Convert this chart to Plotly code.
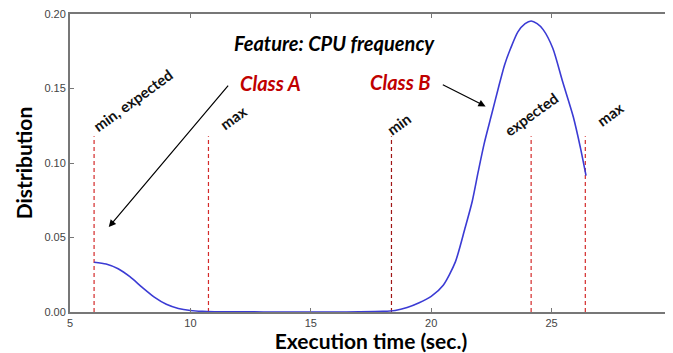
import plotly.graph_objects as go

# ---- data ----
curve_x = [6.0, 6.5, 7.0, 7.5, 8.0, 8.5, 9.0, 9.5, 10.0, 10.5, 11.0, 12.0, 14.0, 16.0, 17.0,
           18.0, 18.5, 19.0, 19.5, 20.0, 20.5, 21.0, 21.4, 21.7, 21.95, 22.2, 22.5, 22.8,
           23.05, 23.3, 23.6, 23.9, 24.15, 24.4, 24.65, 25.05, 25.45, 25.9, 26.2, 26.43]
curve_y = [0.0334, 0.0322, 0.0290, 0.0235, 0.0165, 0.0100, 0.0052, 0.0024, 0.0010, 0.0004,
           0.0002, 0.0001, 0.0, 0.0, 0.0001, 0.0004, 0.0010, 0.0030, 0.0062, 0.0105, 0.0180,
           0.0335, 0.0560, 0.0740, 0.0940, 0.1130, 0.1320, 0.1510, 0.1660, 0.1770, 0.1880,
           0.1935, 0.1953, 0.1935, 0.1895, 0.1770, 0.1550, 0.1310, 0.1100, 0.0915]

marker_x = [6.0, 10.75, 18.35, 24.15, 26.4]
marker_top = 0.118
marker_labels = ["min, expected", "max", "min", "expected", "max"]
marker_colors = ["#d42a2a", "#d42a2a", "#a01515", "#d42a2a", "#d42a2a"]
label_x = [7.62, 11.75, 18.64, 24.15, 27.43]
label_y = [0.1423, 0.1305, 0.1265, 0.1332, 0.1329]

title_text = "Feature: CPU frequency"
title_pos = (16.0, 0.1805)
class_labels = ["Class A", "Class B"]
class_pos = [(13.34, 0.1537), (18.70, 0.1544)]
arrow_tail = [(11.62, 0.153), (20.42, 0.153)]
arrow_head = [(6.61, 0.057), (22.26, 0.138)]

x_ticks = [5, 10, 15, 20, 25, 30]
y_ticks = [0.00, 0.05, 0.10, 0.15, 0.20]

FONT = "Lato"

fig = go.Figure()

for mx, col in zip(marker_x, marker_colors):
    fig.add_trace(go.Scatter(x=[mx, mx], y=[0, marker_top], mode="lines",
                             line=dict(color=col, width=1.2, dash="4px,3px"),
                             showlegend=False, hoverinfo="skip"))

fig.add_trace(go.Scatter(x=curve_x, y=curve_y, mode="lines",
                         line=dict(color="#3b3bd4", width=1.6, shape="spline", smoothing=0.7),
                         showlegend=False))

anns = []
for t, lx, ly in zip(marker_labels, label_x, label_y):
    anns.append(dict(x=lx, y=ly, xref="x", yref="y", text=t, showarrow=False,
                     textangle=-36, xanchor="center", yanchor="middle",
                     font=dict(family=FONT, size=15, color="#111", weight="bold")))

anns.append(dict(x=title_pos[0], y=title_pos[1], xref="x", yref="y", text="<i>" + title_text + "</i>",
                 showarrow=False, font=dict(family=FONT, size=20, color="#000", weight="bold")))

for t, (cx, cy) in zip(class_labels, class_pos):
    anns.append(dict(x=cx, y=cy, xref="x", yref="y", text="<i>" + t + "</i>", showarrow=False,
                     font=dict(family=FONT, size=20, color="#c00000", weight="bold")))

for (tx, ty), (hx, hy) in zip(arrow_tail, arrow_head):
    anns.append(dict(x=hx, y=hy, ax=tx, ay=ty, xref="x", yref="y", axref="x", ayref="y",
                     text="", showarrow=True, arrowhead=2, arrowsize=1.2, arrowwidth=1.2,
                     arrowcolor="#000"))

# the page body has an 8px margin, so the figure is sized/offset to compensate
fig.update_layout(
    width=665, height=345,
    margin=dict(l=62, r=1, t=6, b=41, autoexpand=False),
    paper_bgcolor="white", plot_bgcolor="white",
    annotations=anns,
    xaxis=dict(range=[5, 30], tickvals=x_ticks, ticktext=[str(v) for v in x_ticks],
               automargin=False, ticklabeloverflow="allow",
               showgrid=False, zeroline=False, showline=True, linecolor="#777", linewidth=2,
               mirror="allticks", ticks="inside", ticklen=4, tickcolor="#777",
               tickfont=dict(family="Liberation Sans", size=11, color="#444"),
               title=dict(text="Execution time (sec.)", standoff=4,
                          font=dict(family=FONT, size=21, color="#000", weight="bold"))),
    yaxis=dict(range=[0, 0.20], tickvals=y_ticks, ticktext=[f"{v:.2f}" for v in y_ticks],
               automargin=False, ticklabeloverflow="allow",
               showgrid=False, zeroline=False, showline=True, linecolor="#777", linewidth=2,
               mirror="allticks", ticks="inside", ticklen=4, tickcolor="#777",
               tickfont=dict(family="Liberation Sans", size=11, color="#444"),
               title=dict(text="Distribution", standoff=6,
                          font=dict(family=FONT, size=21, color="#000", weight="bold"))),
)

fig.write_html("out.html")
